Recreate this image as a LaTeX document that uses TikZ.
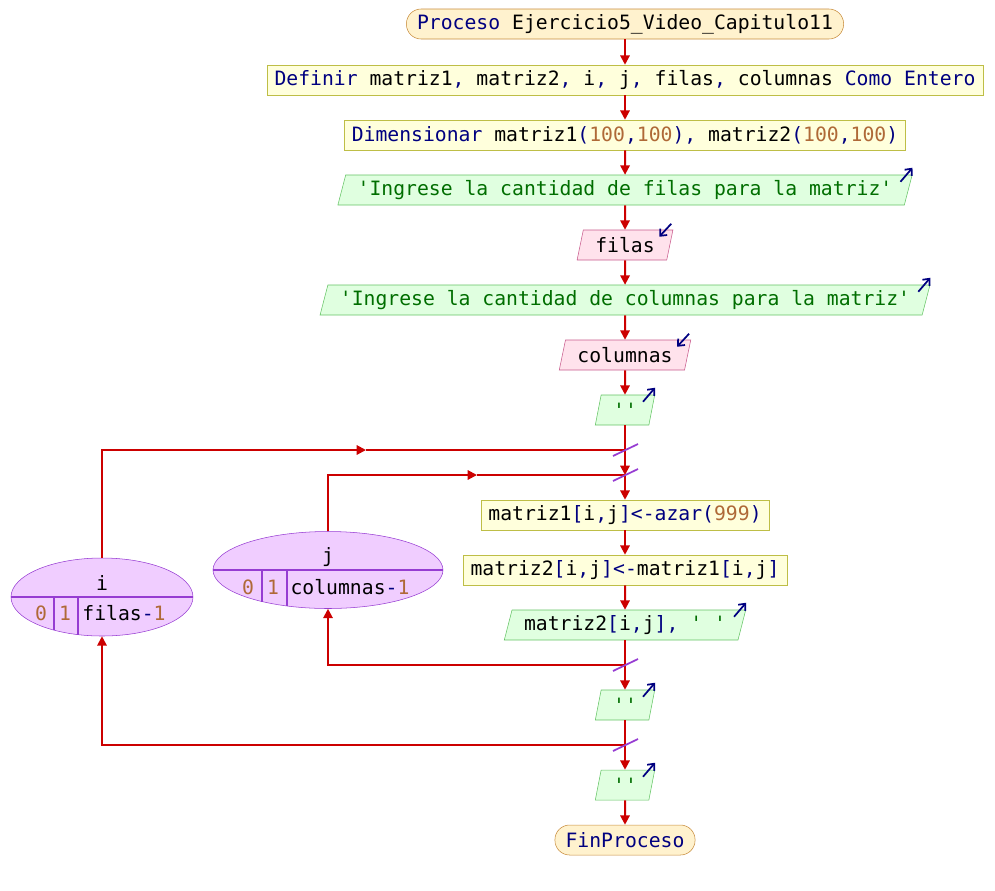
\documentclass[tikz,border=0pt]{standalone}
\usepackage{fontspec}
\setmonofont{DejaVu Sans Mono}
\usetikzlibrary{arrows.meta,shapes.geometric}

\definecolor{kwblue}{RGB}{0,0,128}
\definecolor{numbrown}{RGB}{175,105,55}
\definecolor{strgreen}{RGB}{0,110,0}
\definecolor{flowred}{RGB}{204,0,0}
\definecolor{termfill}{RGB}{255,242,206}
\definecolor{termline}{RGB}{200,140,60}
\definecolor{procfill}{RGB}{255,255,220}
\definecolor{procline}{RGB}{190,190,70}
\definecolor{outfill}{RGB}{224,255,224}
\definecolor{outline}{RGB}{100,195,100}
\definecolor{infill}{RGB}{255,226,236}
\definecolor{inline}{RGB}{200,90,140}
\definecolor{loopfill}{RGB}{240,205,255}
\definecolor{loopline}{RGB}{150,60,210}

\newcommand{\kwd}[1]{\textcolor{kwblue}{#1}}
\newcommand{\nmb}[1]{\textcolor{numbrown}{#1}}
\newcommand{\strg}[1]{\textcolor{strgreen}{#1}}

\begin{document}
\begin{tikzpicture}[x=0.75pt,y=-0.75pt,>={Triangle[length=7pt,width=7pt]},
  every node/.style={font=\fontsize{14.8}{17}\selectfont\ttfamily},
  flow/.style={draw=flowred,line width=1.5pt},
  terminal/.style={draw=termline,fill=termfill,rounded corners=11pt,minimum height=22.5pt,inner xsep=8pt,inner ysep=0pt},
  process/.style={draw=procline,fill=procfill,minimum height=22.5pt,inner xsep=5.5pt,inner ysep=0pt},
  outbox/.style={trapezium,trapezium left angle=68,trapezium right angle=112,trapezium stretches body=true,draw=outline,fill=outfill,minimum height=22.5pt,inner xsep=9pt,inner ysep=0pt},
  inbox/.style={outbox,draw=inline,fill=infill},
  loopbox/.style={ellipse,draw=loopline,fill=loopfill,inner sep=0pt},
  loopdiv/.style={draw=loopline,line width=0.8pt},
  slash/.style={draw=loopline,line width=1.3pt},
  glyph/.style={draw=kwblue,line width=1.3pt,-{Straight Barb[length=4pt,width=7pt]}}]
\useasboundingbox (0,0) rectangle (995,890);

% main column
\node[terminal] (start) at (625,24) {\kwd{Proceso} Ejercicio5\_Video\_Capitulo11};
\node[process] (def) at (625,80) {\kwd{Definir} matriz1\kwd{,} matriz2\kwd{,} i\kwd{,} j\kwd{,} filas\kwd{,} columnas \kwd{Como Entero}};
\node[process] (dim) at (625,135) {\kwd{Dimensionar} matriz1\kwd{(}\nmb{100}\kwd{,}\nmb{100}\kwd{),} matriz2\kwd{(}\nmb{100}\kwd{,}\nmb{100}\kwd{)}};
\node[outbox] (o1) at (625,190) {\strg{'Ingrese la cantidad de filas para la matriz'}};
\node[inbox] (in1) at (625,245) {filas};
\node[outbox] (o2) at (625,300) {\strg{'Ingrese la cantidad de columnas para la matriz'}};
\node[inbox] (in2) at (625,355) {columnas};
\node[outbox] (o3) at (625,410) {\strg{''}};
\coordinate (ijoin) at (625,450);
\coordinate (jjoin) at (625,475);
\node[process] (m1) at (625,515) {matriz1\kwd{[}i\kwd{,}j\kwd{]<-azar(}\nmb{999}\kwd{)}};
\node[process] (m2) at (625,570) {matriz2\kwd{[}i\kwd{,}j\kwd{]<-}matriz1\kwd{[}i\kwd{,}j\kwd{]}};
\node[outbox] (o4) at (625,625) {matriz2\kwd{[}i\kwd{,}j\kwd{], }\strg{' '}};
\coordinate (jend) at (625,665);
\node[outbox] (o5) at (625,705) {\strg{''}};
\coordinate (iend) at (625,745);
\node[outbox] (o6) at (625,785) {\strg{''}};
\node[terminal] (fin) at (625,840) {\kwd{FinProceso}};

% loops
\node[loopbox,minimum width=136.5pt,minimum height=58.5pt] (loopi) at (102,597) {};
\node[loopbox,minimum width=172.5pt,minimum height=57.75pt] (loopj) at (328,570) {};
\draw[loopdiv] (loopi.west) -- (loopi.east);
\draw[loopdiv] (54,597) -- (54,630) (78,597) -- (78,634.5);
\draw[loopdiv] (loopj.west) -- (loopj.east);
\draw[loopdiv] (262,570) -- (262,601.5) (287,570) -- (287,606);
\node (ivar) at (102,583) {i};
\node (ifrom) at (41,613) {\nmb{0}};
\node (istep) at (65,613) {\nmb{1}};
\node (ito) at (124,613) {filas\kwd{-}\nmb{1}};
\node (jvar) at (328,557) {j};
\node (jfrom) at (248,587) {\nmb{0}};
\node (jstep) at (273,587) {\nmb{1}};
\node (jto) at (350,587) {columnas\kwd{-}\nmb{1}};
\coordinate (imid) at (366,450);
\coordinate (jmid) at (477,475);

% connectors
\draw[flow,->] (start) -- (def);
\draw[flow,->] (def) -- (dim);
\draw[flow,->] (dim) -- (o1);
\draw[flow,->] (o1) -- (in1);
\draw[flow,->] (in1) -- (o2);
\draw[flow,->] (o2) -- (in2);
\draw[flow,->] (in2) -- (o3);
\draw[flow] (o3) -- (ijoin);
\draw[flow,->] (ijoin) -- (jjoin);
\draw[flow,->] (jjoin) -- (m1);
\draw[flow,->] (m1) -- (m2);
\draw[flow,->] (m2) -- (o4);
\draw[flow] (o4) -- (jend);
\draw[flow,->] (jend) -- (o5);
\draw[flow] (o5) -- (iend);
\draw[flow,->] (iend) -- (o6);
\draw[flow,->] (o6) -- (fin);
\draw[flow,->] (loopi.north) |- (imid);
\draw[flow] (imid) -- (ijoin);
\draw[flow,->] (loopj.north) |- (jmid);
\draw[flow] (jmid) -- (jjoin);
\draw[flow,->] (jend) -| (loopj.south);
\draw[flow,->] (iend) -| (loopi.south);

% loop marks
\foreach \p in {ijoin,jjoin,jend,iend}
  \draw[slash] ([shift={(-12,6)}]\p) -- ++(25,-12);

% in/out glyphs
\foreach \n in {o1,o2,o3,o4,o5,o6}
  \draw[glyph] ([shift={(-12,7)}]\n.top right corner) -- ++(12,-14);
\foreach \n in {in1,in2}
  \draw[glyph] ([shift={(-2,-6)}]\n.top right corner) -- ++(-12,13);
\end{tikzpicture}
\end{document}
